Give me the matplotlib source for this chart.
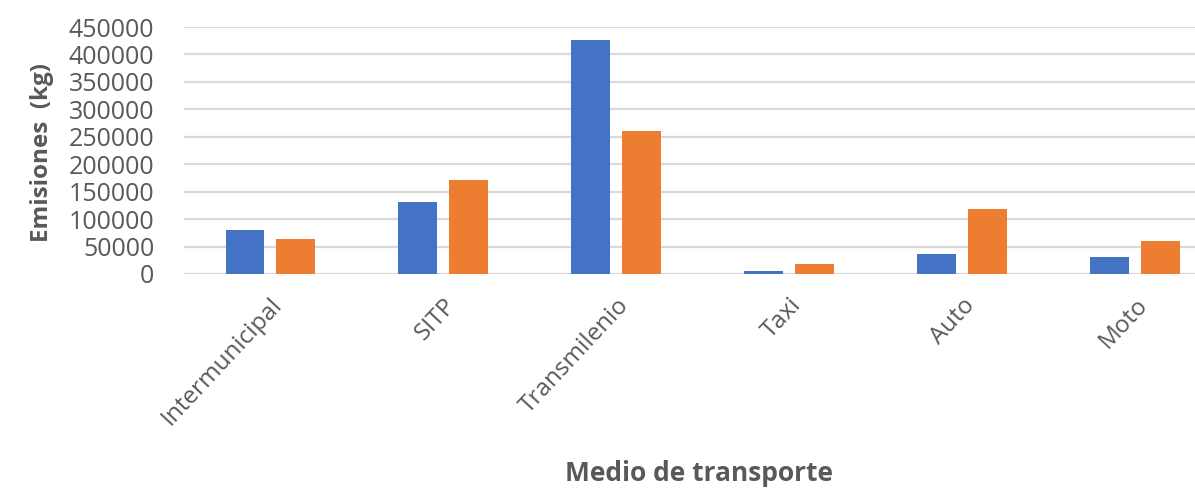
import matplotlib.pyplot as plt
import numpy as np

plt.rcParams['font.family'] = ['Open Sans', 'DejaVu Sans']

# Emisiones por medio de transporte (kg)
categorias = ['Intermunicipal', 'SITP', 'Transmilenio', 'Taxi', 'Auto', 'Moto']
serie_azul = [80000, 131000, 427000, 6000, 36500, 31500]
serie_naranja = [63000, 171000, 261000, 17500, 118000, 60000]

azul = '#4472C4'
naranja = '#ED7D31'
gris_texto = '#595959'
gris_grid = '#D9D9D9'

fig = plt.figure(figsize=(11.95, 4.91), dpi=100)
ax = fig.add_axes([0.1536, 0.442, 0.8686, 0.503])

x = np.arange(len(categorias))
ancho = 0.225
desp = 0.145
ax.bar(x - desp, serie_azul, ancho, color=azul, zorder=3)
ax.bar(x + desp, serie_naranja, ancho, color=naranja, zorder=3)

ax.set_xlim(-0.5, len(categorias) - 0.5)
ax.set_ylim(0, 450000)
ax.set_yticks(np.arange(0, 450001, 50000))
ax.yaxis.grid(True, color=gris_grid, linewidth=1.6, zorder=0)
ax.set_axisbelow(True)
for s in ax.spines.values():
    s.set_visible(False)

ax.tick_params(axis='y', length=0, pad=21, labelsize=18, labelcolor=gris_texto)
ax.tick_params(axis='x', length=0, pad=14, labelsize=17.5, labelcolor=gris_texto)
ax.set_xticks(x)
ax.set_xticklabels(categorias, rotation=47, ha='right', rotation_mode='anchor')

fig.text(0.585, 0.035, 'Medio de transporte', ha='center', va='center',
         fontsize=19, fontweight='bold', color=gris_texto)
fig.text(0.035, 0.69, 'Emisiones  (kg)', ha='center', va='center', rotation=90,
         fontsize=17.5, fontweight='bold', color=gris_texto)

fig.savefig('out.png', dpi=100)
